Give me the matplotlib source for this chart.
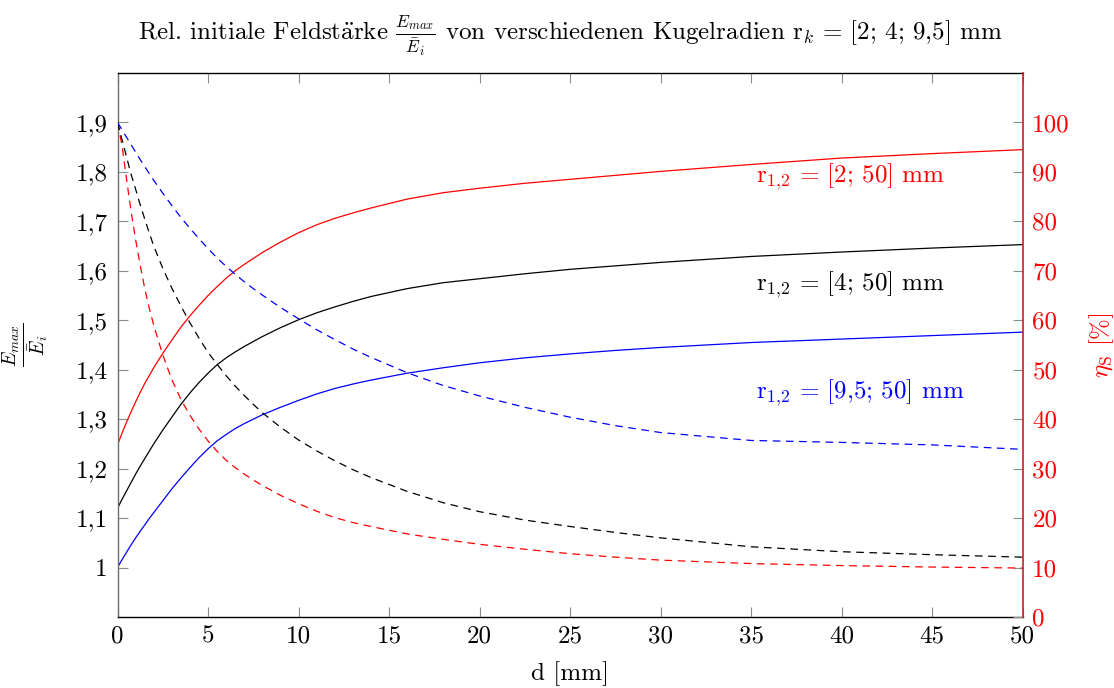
import matplotlib
matplotlib.use("Agg")
import matplotlib.pyplot as plt

plt.rcParams["font.family"] = ["cmr10"]
plt.rcParams["mathtext.fontset"] = "cm"
plt.rcParams["axes.formatter.use_mathtext"] = True
plt.rcParams["axes.unicode_minus"] = False
plt.rcParams["lines.scale_dashes"] = False

# gap distance d [mm]
d = [0, 0.25, 0.5, 0.75, 1, 1.25, 1.5, 1.75, 2, 2.5, 3, 3.5, 4, 4.5, 5, 5.5, 6, 6.5,
     7, 7.5, 8, 9, 10, 11, 12, 13, 14, 16, 18, 20, 22.5, 25, 27.5, 30, 35, 40, 45, 50]

# relative initial field strength Emax/Ei (left axis)
ratio_r2 = [1.248, 1.272, 1.294, 1.315, 1.335, 1.354, 1.372, 1.388, 1.404, 1.433,
            1.460, 1.486, 1.509, 1.530, 1.550, 1.568, 1.585, 1.600, 1.613, 1.625,
            1.637, 1.658, 1.677, 1.693, 1.706, 1.717, 1.727, 1.745, 1.758, 1.767,
            1.777, 1.785, 1.793, 1.801, 1.815, 1.828, 1.837, 1.845]
ratio_r4 = [1.120, 1.138, 1.155, 1.172, 1.189, 1.205, 1.220, 1.235, 1.250, 1.278,
            1.304, 1.330, 1.353, 1.374, 1.393, 1.410, 1.424, 1.436, 1.447, 1.457,
            1.467, 1.485, 1.501, 1.515, 1.527, 1.538, 1.548, 1.564, 1.576, 1.584,
            1.594, 1.603, 1.610, 1.617, 1.629, 1.638, 1.646, 1.653]
ratio_r95 = [1.000, 1.016, 1.031, 1.046, 1.060, 1.073, 1.086, 1.099, 1.111, 1.135,
             1.159, 1.181, 1.202, 1.222, 1.240, 1.256, 1.269, 1.281, 1.291, 1.300,
             1.309, 1.324, 1.338, 1.351, 1.362, 1.371, 1.379, 1.393, 1.404, 1.414,
             1.424, 1.432, 1.439, 1.445, 1.455, 1.462, 1.469, 1.476]

# utilisation factor eta_S [%] (right axis)
eta_r2 = [100, 95.3, 88.5, 82, 76.3, 71.2, 66.5, 62.5, 59, 53,
          48, 44, 40.8, 38, 35.6, 33.5, 31.7, 30.2, 28.9, 27.7,
          26.6, 24.6, 22.9, 21.4, 20.1, 19.1, 18.3, 16.8, 15.7, 14.7,
          13.7, 12.8, 12.1, 11.5, 10.8, 10.4, 10.1, 9.9]
eta_r4 = [100, 96.5, 93, 89.5, 86.5, 83.4, 80.5, 77.7, 75, 70.5,
          66.5, 62.9, 59.5, 56.4, 53.5, 51.1, 48.8, 46.7, 44.8, 43,
          41.3, 38.4, 35.8, 33.6, 31.6, 29.8, 28.2, 25.4, 23.1, 21.3,
          19.6, 18.3, 17.1, 16.0, 14.2, 13.2, 12.6, 12.1]
eta_r95 = [100, 98.5, 97, 95.5, 94, 92.5, 91.1, 89.7, 88.3, 85.7,
           83.2, 80.8, 78.6, 76.5, 74.5, 72.6, 70.9, 69.3, 67.8, 66.4,
           65.1, 62.6, 60.3, 58.1, 56.1, 54.2, 52.5, 49.4, 46.8, 44.7,
           42.4, 40.4, 38.7, 37.3, 35.7, 35.3, 34.8, 33.9]

left_ticks = [1.0, 1.1, 1.2, 1.3, 1.4, 1.5, 1.6, 1.7, 1.8, 1.9]
left_labels = ["1", "1,1", "1,2", "1,3", "1,4", "1,5", "1,6", "1,7", "1,8", "1,9"]
right_ticks = [0, 10, 20, 30, 40, 50, 60, 70, 80, 90, 100]
x_ticks = [0, 5, 10, 15, 20, 25, 30, 35, 40, 45, 50]

labels = [r"$\mathrm{r}_{1{,}2}$ = [2; 50] mm",
          r"$\mathrm{r}_{1{,}2}$ = [4; 50] mm",
          r"$\mathrm{r}_{1{,}2}$ = [9,5; 50] mm"]
label_y = [1.79, 1.572, 1.353]
colors = ["#ff0000", "#000000", "#0000ff"]

FS = 18
TICKC = "#8c8c8c"

fig = plt.figure(figsize=(11.14, 6.88), dpi=100)
ax = fig.add_axes([0.1055, 0.1032, 0.8124, 0.7907])
ax2 = ax.twinx()

for yv, col in zip([ratio_r2, ratio_r4, ratio_r95], colors):
    ax.plot(d, yv, color=col, lw=0.9, solid_joinstyle="round")
for yv, col in zip([eta_r2, eta_r4, eta_r95], colors):
    ax2.plot(d, yv, color=col, lw=0.9, linestyle=(0, (5.5, 4.0)))

for txt, yy, col in zip(labels, label_y, colors):
    ax.text(35.3, yy, txt, color=col, fontsize=FS, ha="left", va="center")

ax.set_xlim(0, 50)
ax.set_ylim(0.9, 2.0)
ax2.set_ylim(0, 110)

ax.set_xticks(x_ticks)
ax.set_xticklabels([str(v) for v in x_ticks], fontsize=FS)
ax.set_yticks(left_ticks)
ax.set_yticklabels(left_labels, fontsize=FS)
ax2.set_yticks(right_ticks)
ax2.set_yticklabels([str(v) for v in right_ticks], fontsize=FS, color="red")

ax.tick_params(axis="x", direction="in", length=7, width=0.8, color=TICKC,
               top=True, pad=6)
ax.tick_params(axis="y", direction="in", length=7, width=0.8, color=TICKC, pad=7)
ax2.tick_params(axis="y", direction="in", length=7, width=0.8, color=TICKC, pad=7,
                labelcolor="red")

for s in ["top", "bottom"]:
    ax.spines[s].set_color("black")
    ax.spines[s].set_linewidth(1.0)
ax.spines["left"].set_color("#6e6e6e")
ax.spines["left"].set_linewidth(1.0)
ax.spines["right"].set_visible(False)
for s in ["top", "bottom", "left"]:
    ax2.spines[s].set_visible(False)
ax2.spines["right"].set_color("#b82828")
ax2.spines["right"].set_linewidth(1.2)

ax.set_xlabel("d [mm]", fontsize=FS, labelpad=10)
ax.set_ylabel(r"$\frac{E_{max}}{\bar{E}_i}$", fontsize=FS + 2, rotation=90)
ax.yaxis.set_label_coords(-0.074, 0.5)
ax2.set_ylabel(r"$\eta_{\mathrm{S}}$ [%]", fontsize=FS, color="red", rotation=90)
ax2.yaxis.set_label_coords(1.071, 0.5)

ax.set_title(r"Rel. initiale Feldst$\ddot{\mathrm{a}}$rke $\frac{E_{max}}{\bar{E}_i}$ "
             r"von verschiedenen Kugelradien r$_k$ = [2; 4; 9,5] mm",
             fontsize=FS, pad=24)

fig.savefig("out.png", dpi=100)
